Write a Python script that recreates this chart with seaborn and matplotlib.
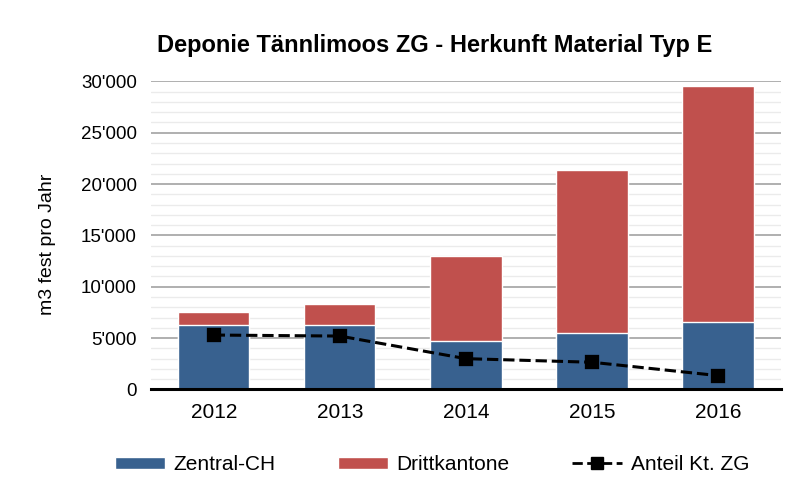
import matplotlib
matplotlib.use("Agg")

import matplotlib.pyplot as plt
import matplotlib.ticker as mticker
from matplotlib.lines import Line2D
from matplotlib.patches import Patch
import pandas as pd
import seaborn as sns

YEARS = ["2012", "2013", "2014", "2015", "2016"]
ZENTRAL_CH = [6300, 6300, 4700, 5450, 6550]
DRITTKANTONE = [1270, 2070, 8300, 15900, 22950]
ANTEIL_ZG = [5300, 5200, 3000, 2650, 1350]

BLUE = "#38618F"
RED = "#C0504D"

sns.set_theme(style="white")
plt.rcParams["font.family"] = ["Liberation Sans", "DejaVu Sans"]
plt.rcParams["text.color"] = "black"
plt.rcParams["axes.labelcolor"] = "black"
plt.rcParams["xtick.color"] = "black"
plt.rcParams["ytick.color"] = "black"

df = pd.DataFrame({
    "Jahr": YEARS,
    "Zentral-CH": ZENTRAL_CH,
    "Drittkantone": DRITTKANTONE,
    "Anteil": ANTEIL_ZG,
})
df["Total"] = df["Zentral-CH"] + df["Drittkantone"]

fig, ax = plt.subplots(figsize=(7.93, 4.93), dpi=100)
fig.subplots_adjust(left=0.19, right=0.985, top=0.835, bottom=0.21)

# stacked bars: total in red, Zentral-CH drawn over it in blue
sns.barplot(data=df, x="Jahr", y="Total", color=RED, saturation=1, width=0.565, ax=ax, zorder=2)
sns.barplot(data=df, x="Jahr", y="Zentral-CH", color=BLUE, saturation=1, width=0.565, ax=ax, zorder=2)
sns.pointplot(data=df, x="Jahr", y="Anteil", color="black", markers="s", linestyles="--",
              markersize=9, linewidth=2.2, ax=ax, zorder=4)

ax.set_ylim(0, 30000)
ax.set_xlim(-0.5, 4.5)
ax.yaxis.set_major_locator(mticker.MultipleLocator(5000))
ax.yaxis.set_minor_locator(mticker.MultipleLocator(1000))
ax.yaxis.set_major_formatter(mticker.FuncFormatter(lambda v, _: f"{int(v):,}".replace(",", "'")))
ax.grid(axis="y", which="major", color="#9A9A9A", linewidth=1.1, zorder=0)
ax.grid(axis="y", which="minor", color="#EBEBEB", linewidth=1.0, zorder=0)
ax.set_axisbelow(True)

for side in ["left", "right", "top"]:
    ax.spines[side].set_visible(False)
ax.spines["bottom"].set_color("black")
ax.spines["bottom"].set_linewidth(2.2)
ax.spines["bottom"].set_zorder(5)

ax.tick_params(axis="y", labelsize=13.5, length=0, pad=10)
ax.tick_params(axis="x", labelsize=15, length=0, pad=10)
ax.set_xlabel("")
ax.set_ylabel("m3 fest pro Jahr", fontsize=14, labelpad=10)
ax.yaxis.set_label_coords(-0.15, 0.47)
ax.set_title("Deponie Tännlimoos ZG - Herkunft Material Typ E",
             fontsize=17, fontweight="bold", pad=21, x=0.45)

handles = [
    Patch(facecolor=BLUE, label="Zentral-CH"),
    Patch(facecolor=RED, label="Drittkantone"),
    Line2D([0], [0], color="black", linestyle="--", marker="s", markersize=8,
           linewidth=2, label="Anteil Kt. ZG"),
]
fig.legend(handles=handles, loc="lower center", bbox_to_anchor=(0.545, 0.0), ncol=3,
           frameon=False, fontsize=15, handlelength=2.4, handleheight=0.55,
           handletextpad=0.4, columnspacing=3.0)

fig.savefig("out.png", dpi=100)
plt.close(fig)
